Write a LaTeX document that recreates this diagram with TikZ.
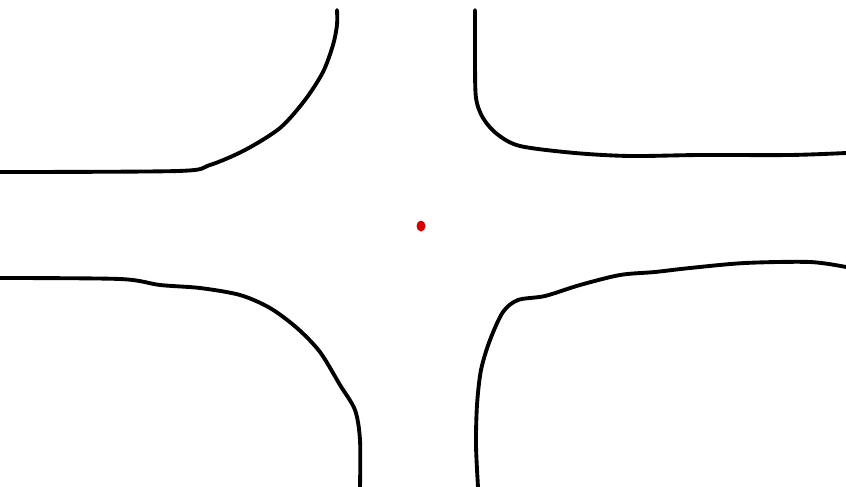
\documentclass[tikz,border=0pt]{standalone}
\begin{document}
\begin{tikzpicture}[x=0.02cm,y=-0.02cm,
  kerb/.style={line width=2.2pt,black,line cap=round,line join=round}]
\useasboundingbox (0,0) rectangle (846,487);
\draw[kerb] plot[smooth,tension=0.5] coordinates {(0,172) (178,171) (210,165) (245,150) (280,128) (305,100) (323,72) (333,45) (337,25) (337,10)};
\draw[kerb] plot[smooth,tension=0.5] coordinates {(475,10) (475,60) (476,98) (483,118) (497,134) (520,146) (575,153) (630,156) (700,155) (790,155) (846,153)};
\draw[kerb] plot[smooth,tension=0.5] coordinates {(0,278) (120,279) (160,285) (200,288) (240,295) (270,308) (297,328) (320,352) (340,385) (355,410) (360,440) (360,487)};
\draw[kerb] plot[smooth,tension=0.5] coordinates {(846,267) (810,262) (745,263) (690,268) (655,272) (620,275) (580,285) (545,296) (518,300) (503,312) (490,340) (481,370) (477,405) (476,445) (478,487)};
\fill[red!85!black] (421,226) ellipse [x radius=4.5,y radius=5.5];
\end{tikzpicture}
\end{document}
